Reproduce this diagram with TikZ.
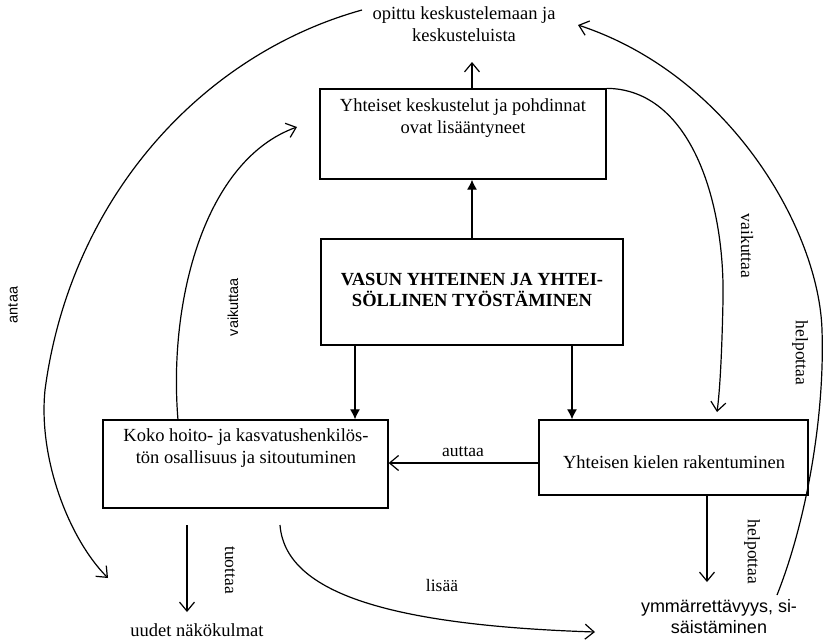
\documentclass[tikz,border=0pt]{standalone}
\usepackage{fontspec}
\setmainfont{Liberation Serif}
\newfontfamily\arialfont{Liberation Sans}
\usetikzlibrary{arrows.meta}
\begin{document}
\begin{tikzpicture}[x=1pt,y=-1pt,
  box/.style={draw, line width=1.3pt, inner sep=0pt, fill=white},
  txt/.style={font=\fontsize{18.5}{22}\selectfont, align=center, inner sep=0pt},
  sanstxt/.style={font=\arialfont\fontsize{18}{21}\selectfont, align=center, inner sep=0pt},
  lbl/.style={font=\fontsize{17.5}{21}\selectfont, inner sep=0pt},
  sanslbl/.style={font=\arialfont\fontsize{14.5}{17}\selectfont, inner sep=0pt},
  conn/.style={line width=1.2pt, -{Straight Barb[length=9pt,width=15pt]}},
  mainarrow/.style={line width=1.2pt, -{Latex[length=10pt,width=10pt]}}]
\useasboundingbox (0,0) rectangle (825,641);

% boxes
\node[box, minimum width=286pt, minimum height=90pt] (topbox) at (463,134) {};
\node[box, minimum width=302pt, minimum height=106pt] (central) at (472,292) {};
\node[box, minimum width=285pt, minimum height=88pt] (koko) at (245.5,464) {};
\node[box, minimum width=269pt, minimum height=75pt] (kieli) at (673.5,457.5) {};

% box texts
\node[txt] (toptxt) at (463,118) {Yhteiset keskustelut ja pohdinnat\\ovat lisääntyneet};
\node[txt, font=\fontsize{18.5}{21}\selectfont\bfseries] (centraltxt) at (472,290) {VASUN YHTEINEN JA YHTEI-\\SÖLLINEN TYÖSTÄMINEN};
\node[txt] (kokotxt) at (246,448) {Koko hoito- ja kasvatushenkilös-\\tön osallisuus ja sitoutuminen};
\node[txt] (kielitxt) at (674,462) {Yhteisen kielen rakentuminen};

% outcome texts
\node[txt] (opittu) at (464,24) {opittu keskustelemaan ja\\keskusteluista};
\node[txt] (uudet) at (197,630) {uudet näkökulmat};
\node[sanstxt] (ymm) at (719,617) {ymmärrettävyys, si-\\säistäminen};

% connector end points
\coordinate (upx) at (472,62);
\coordinate (dlx) at (355,0);
\coordinate (drx) at (572,0);
\coordinate (auty) at (0,463);
\coordinate (hp) at (707,582);
\coordinate (tu0) at (187,525);
\coordinate (tu1) at (187,612);
\coordinate (a0) at (362,10);
\coordinate (a1) at (108,578);
\coordinate (lv0) at (178,420);
\coordinate (lv1) at (297,127);
\coordinate (rv1) at (717,412);
\coordinate (h0) at (777,595);
\coordinate (h1) at (578,25);
\coordinate (l0) at (280,525);
\coordinate (l1) at (595,632);

% straight connectors
\draw[mainarrow] (central.north) -- (central.north |- topbox.south);
\draw[conn] (topbox.north -| upx) -- (upx);
\draw[mainarrow] (central.south -| dlx) -- (koko.north -| dlx);
\draw[mainarrow] (central.south -| drx) -- (kieli.north -| drx);
\draw[conn] (kieli.west |- auty) -- (koko.east |- auty);
\draw[conn] (kieli.south -| hp) -- (hp);
\draw[conn] (tu0) -- (tu1);

% curved connectors
\draw[conn] (a0) .. controls (200,55) and (70,200) .. (45,390)
  .. controls (38,460) and (70,540) .. (a1);
\draw[conn] (lv0) .. controls (168,300) and (205,160) .. (lv1);
\draw[conn] (topbox.north east) .. controls (690,89) and (725,200) .. (723,300)
  .. controls (722,350) and (720,390) .. (rv1);
\draw[conn] (h0) .. controls (805,525) and (825,420) .. (822,330)
  .. controls (819,230) and (730,75) .. (h1);
\draw[conn] (l0) .. controls (285,590) and (380,625) .. (l1);

% connector labels
\node[lbl] (auttaa) at (463,452) {auttaa};
\node[lbl] (lisaa) at (442,586) {lisää};
\node[lbl, rotate=-90] (tuottaa) at (230,570) {tuottaa};
\node[lbl, rotate=-90] (helpA) at (752,552) {helpottaa};
\node[lbl, rotate=-90] (vaikR) at (747,246) {vaikuttaa};
\node[lbl, rotate=-90] (helpB) at (800,353) {helpottaa};
\node[sanslbl, rotate=90] (vaikL) at (233,307) {vaikuttaa};
\node[sanslbl, rotate=90] (antaa) at (13,305) {antaa};
\end{tikzpicture}
\end{document}
